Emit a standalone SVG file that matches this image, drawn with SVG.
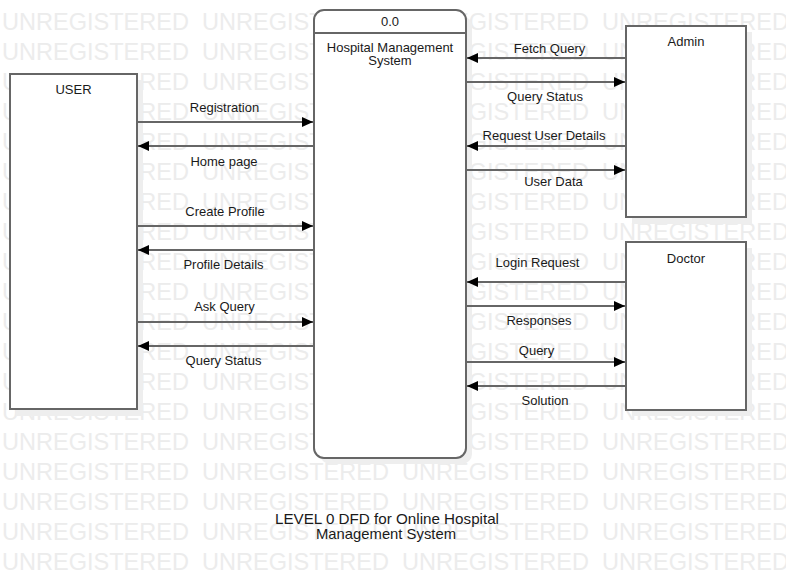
<svg xmlns="http://www.w3.org/2000/svg" xmlns:xlink="http://www.w3.org/1999/xlink" width="786" height="587" viewBox="0 0 786 587">
<style>
  .wm { font-family: "Liberation Sans", Arial, sans-serif; font-size: 24px; fill: #ececec; }
  .box { fill: #ffffff; stroke: #666666; stroke-width: 2; }
  .shadow { fill: #eeeeee; stroke: none; }
  .lbl { font-family: "Liberation Sans", Arial, sans-serif; font-size: 13px; fill: #1a1a1a; text-anchor: middle; }
  .title { font-family: "Liberation Sans", Arial, sans-serif; font-size: 14.5px; fill: #1a1a1a; text-anchor: middle; }
  .flow { stroke: #666666; stroke-width: 2; fill: none; marker-end: url(#arrow); }
</style>
<defs>
  <marker id="arrow" markerUnits="userSpaceOnUse" markerWidth="12" markerHeight="10" refX="11" refY="5" orient="auto">
    <path d="M0,0 L11,5 L0,10 z" fill="#000000"/>
  </marker>
  <g id="wmrow">
    <text class="wm" x="2" y="0" textLength="187" lengthAdjust="spacingAndGlyphs">UNREGISTERED</text>
    <text class="wm" x="202" y="0" textLength="187" lengthAdjust="spacingAndGlyphs">UNREGISTERED</text>
    <text class="wm" x="402" y="0" textLength="187" lengthAdjust="spacingAndGlyphs">UNREGISTERED</text>
    <text class="wm" x="602" y="0" textLength="187" lengthAdjust="spacingAndGlyphs">UNREGISTERED</text>
  </g>
</defs>
<rect x="0" y="0" width="786" height="587" fill="#ffffff"/>
<g id="watermark">
  <use xlink:href="#wmrow" href="#wmrow" y="30"/>
  <use xlink:href="#wmrow" href="#wmrow" y="60"/>
  <use xlink:href="#wmrow" href="#wmrow" y="90"/>
  <use xlink:href="#wmrow" href="#wmrow" y="120"/>
  <use xlink:href="#wmrow" href="#wmrow" y="150"/>
  <use xlink:href="#wmrow" href="#wmrow" y="180"/>
  <use xlink:href="#wmrow" href="#wmrow" y="210"/>
  <use xlink:href="#wmrow" href="#wmrow" y="240"/>
  <use xlink:href="#wmrow" href="#wmrow" y="270"/>
  <use xlink:href="#wmrow" href="#wmrow" y="300"/>
  <use xlink:href="#wmrow" href="#wmrow" y="330"/>
  <use xlink:href="#wmrow" href="#wmrow" y="360"/>
  <use xlink:href="#wmrow" href="#wmrow" y="390"/>
  <use xlink:href="#wmrow" href="#wmrow" y="420"/>
  <use xlink:href="#wmrow" href="#wmrow" y="450"/>
  <use xlink:href="#wmrow" href="#wmrow" y="480"/>
  <use xlink:href="#wmrow" href="#wmrow" y="510"/>
  <use xlink:href="#wmrow" href="#wmrow" y="540"/>
  <use xlink:href="#wmrow" href="#wmrow" y="570"/>
</g>

<g id="user">
  <rect class="shadow" x="16" y="80" width="127" height="336"/>
  <rect class="box" x="10" y="74" width="127" height="335"/>
  <text class="lbl" x="73.5" y="94">USER</text>
</g>

<g id="process">
  <rect class="shadow" x="320" y="16" width="152" height="448" rx="10" ry="10"/>
  <rect class="box" x="314" y="10" width="152" height="448" rx="10" ry="10"/>
  <line x1="314" y1="33" x2="466" y2="33" stroke="#666666" stroke-width="2"/>
  <text class="lbl" x="390" y="25.5">0.0</text>
  <text class="lbl" x="390" y="51.5">Hospital Management</text>
  <text class="lbl" x="390" y="65">System</text>
</g>

<g id="admin">
  <rect class="shadow" x="632" y="32" width="120" height="192"/>
  <rect class="box" x="626" y="26" width="120" height="191"/>
  <text class="lbl" x="686" y="46">Admin</text>
</g>

<g id="doctor">
  <rect class="shadow" x="632" y="248" width="120" height="168"/>
  <rect class="box" x="626" y="242" width="120" height="168"/>
  <text class="lbl" x="686" y="262.5">Doctor</text>
</g>

<g id="connectors">
  <line class="flow" x1="138" y1="122" x2="313" y2="122"/>
  <line class="flow" x1="313" y1="146" x2="138" y2="146"/>
  <line class="flow" x1="138" y1="226" x2="313" y2="226"/>
  <line class="flow" x1="313" y1="250" x2="138" y2="250"/>
  <line class="flow" x1="138" y1="322" x2="313" y2="322"/>
  <line class="flow" x1="313" y1="346" x2="138" y2="346"/>
  <line class="flow" x1="625" y1="58" x2="467" y2="58"/>
  <line class="flow" x1="467" y1="82" x2="625" y2="82"/>
  <line class="flow" x1="625" y1="146" x2="467" y2="146"/>
  <line class="flow" x1="467" y1="170" x2="625" y2="170"/>
  <line class="flow" x1="625" y1="282" x2="467" y2="282"/>
  <line class="flow" x1="467" y1="306" x2="625" y2="306"/>
  <line class="flow" x1="467" y1="362" x2="625" y2="362"/>
  <line class="flow" x1="625" y1="386" x2="467" y2="386"/>
  <text class="lbl" x="224.5" y="111.5">Registration</text>
  <text class="lbl" x="224" y="165.5">Home page</text>
  <text class="lbl" x="225" y="215.5">Create Profile</text>
  <text class="lbl" x="223.5" y="269">Profile Details</text>
  <text class="lbl" x="224.5" y="311">Ask Query</text>
  <text class="lbl" x="223.5" y="365">Query Status</text>
  <text class="lbl" x="549.5" y="52.5">Fetch Query</text>
  <text class="lbl" x="545" y="100.5">Query Status</text>
  <text class="lbl" x="544" y="139.5">Request User Details</text>
  <text class="lbl" x="553.5" y="185.5">User Data</text>
  <text class="lbl" x="537.5" y="267">Login Request</text>
  <text class="lbl" x="539" y="324.5">Responses</text>
  <text class="lbl" x="536.5" y="354.5">Query</text>
  <text class="lbl" x="545" y="405">Solution</text>
</g>

<g id="title">
  <text class="title" x="387" y="523.5" textLength="224" lengthAdjust="spacingAndGlyphs">LEVEL 0 DFD for Online Hospital</text>
  <text class="title" x="386" y="538.5" textLength="140" lengthAdjust="spacingAndGlyphs">Management System</text>
</g>
</svg>
